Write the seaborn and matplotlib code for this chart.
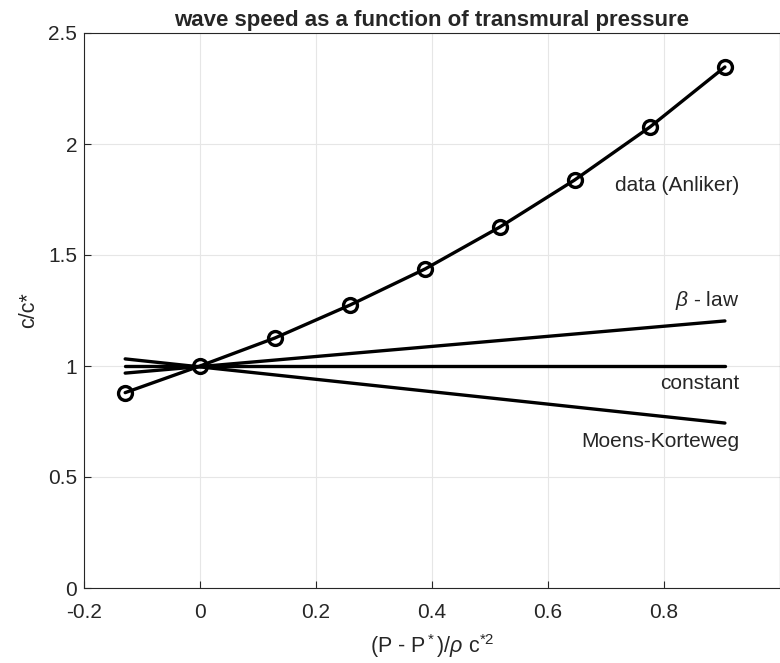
import matplotlib
matplotlib.use("Agg")
import matplotlib.pyplot as plt
import seaborn as sns
import numpy as np

# values
p_data = [-0.129, 0.0, 0.129, 0.259, 0.388, 0.517, 0.646, 0.776, 0.905]
c_data = [0.88, 1.0, 1.126, 1.275, 1.437, 1.626, 1.838, 2.077, 2.347]

p_line = [-0.129, 0.905]
c_beta = [0.968, 1.203]
c_const = [1.0, 1.0]
c_mk = [1.032, 0.743]

sns.set_theme(style="whitegrid")
plt.rcParams['font.family'] = ['Liberation Sans', 'DejaVu Sans']
plt.rcParams['mathtext.fontset'] = 'custom'
plt.rcParams['mathtext.rm'] = 'Liberation Sans'
plt.rcParams['mathtext.it'] = 'Liberation Sans:italic'

fig = plt.figure(figsize=(7.8, 6.63), dpi=100)
ax = fig.add_axes([84 / 780, 1 - 588 / 663, 696 / 780, 555 / 663])

lw = 2.4
sns.lineplot(x=p_data, y=c_data, ax=ax, color='black', lw=lw, marker='o',
             markersize=10, markerfacecolor='none', markeredgecolor='black',
             markeredgewidth=2.4)
sns.lineplot(x=p_line, y=c_beta, ax=ax, color='black', lw=lw)
sns.lineplot(x=p_line, y=c_const, ax=ax, color='black', lw=lw)
sns.lineplot(x=p_line, y=c_mk, ax=ax, color='black', lw=lw)

fs = 15
ax.text(0.93, 1.815, 'data (Anliker)', ha='right', va='center', fontsize=fs)
ax.text(0.93, 1.297, r'$\beta$ - law', ha='right', va='center', fontsize=fs)
ax.text(0.93, 0.923, 'constant', ha='right', va='center', fontsize=fs)
ax.text(0.93, 0.662, 'Moens-Korteweg', ha='right', va='center', fontsize=fs)

ax.set_xlim(-0.2, 1.0)
ax.set_ylim(0, 2.5)
ax.set_xticks([-0.2, 0, 0.2, 0.4, 0.6, 0.8])
ax.set_xticklabels(['-0.2', '0', '0.2', '0.4', '0.6', '0.8'])
ax.set_yticks([0, 0.5, 1, 1.5, 2, 2.5])
ax.set_yticklabels(['0', '0.5', '1', '1.5', '2', '2.5'])
ax.tick_params(axis='both', direction='in', length=5, width=0.8, color='#262626',
               labelsize=15, labelcolor='#262626', bottom=True, left=True)
ax.tick_params(axis='x', pad=11)
ax.tick_params(axis='y', pad=5)
ax.grid(True, color='#e6e6e6', lw=0.8)
ax.set_facecolor('white')
for side in ['left', 'bottom', 'top', 'right']:
    ax.spines[side].set_color('#262626')
    ax.spines[side].set_linewidth(0.8)

ax.set_title('wave speed as a function of transmural pressure',
             fontsize=16, fontweight='bold', pad=5)
ax.set_xlabel(r'(P - P$^*$)/$\rho$ c$^{*2}$', fontsize=15.5, labelpad=7)
ax.set_ylabel('c/c*', fontsize=15.5, labelpad=6)

fig.savefig('out.png', dpi=100, facecolor='white')
